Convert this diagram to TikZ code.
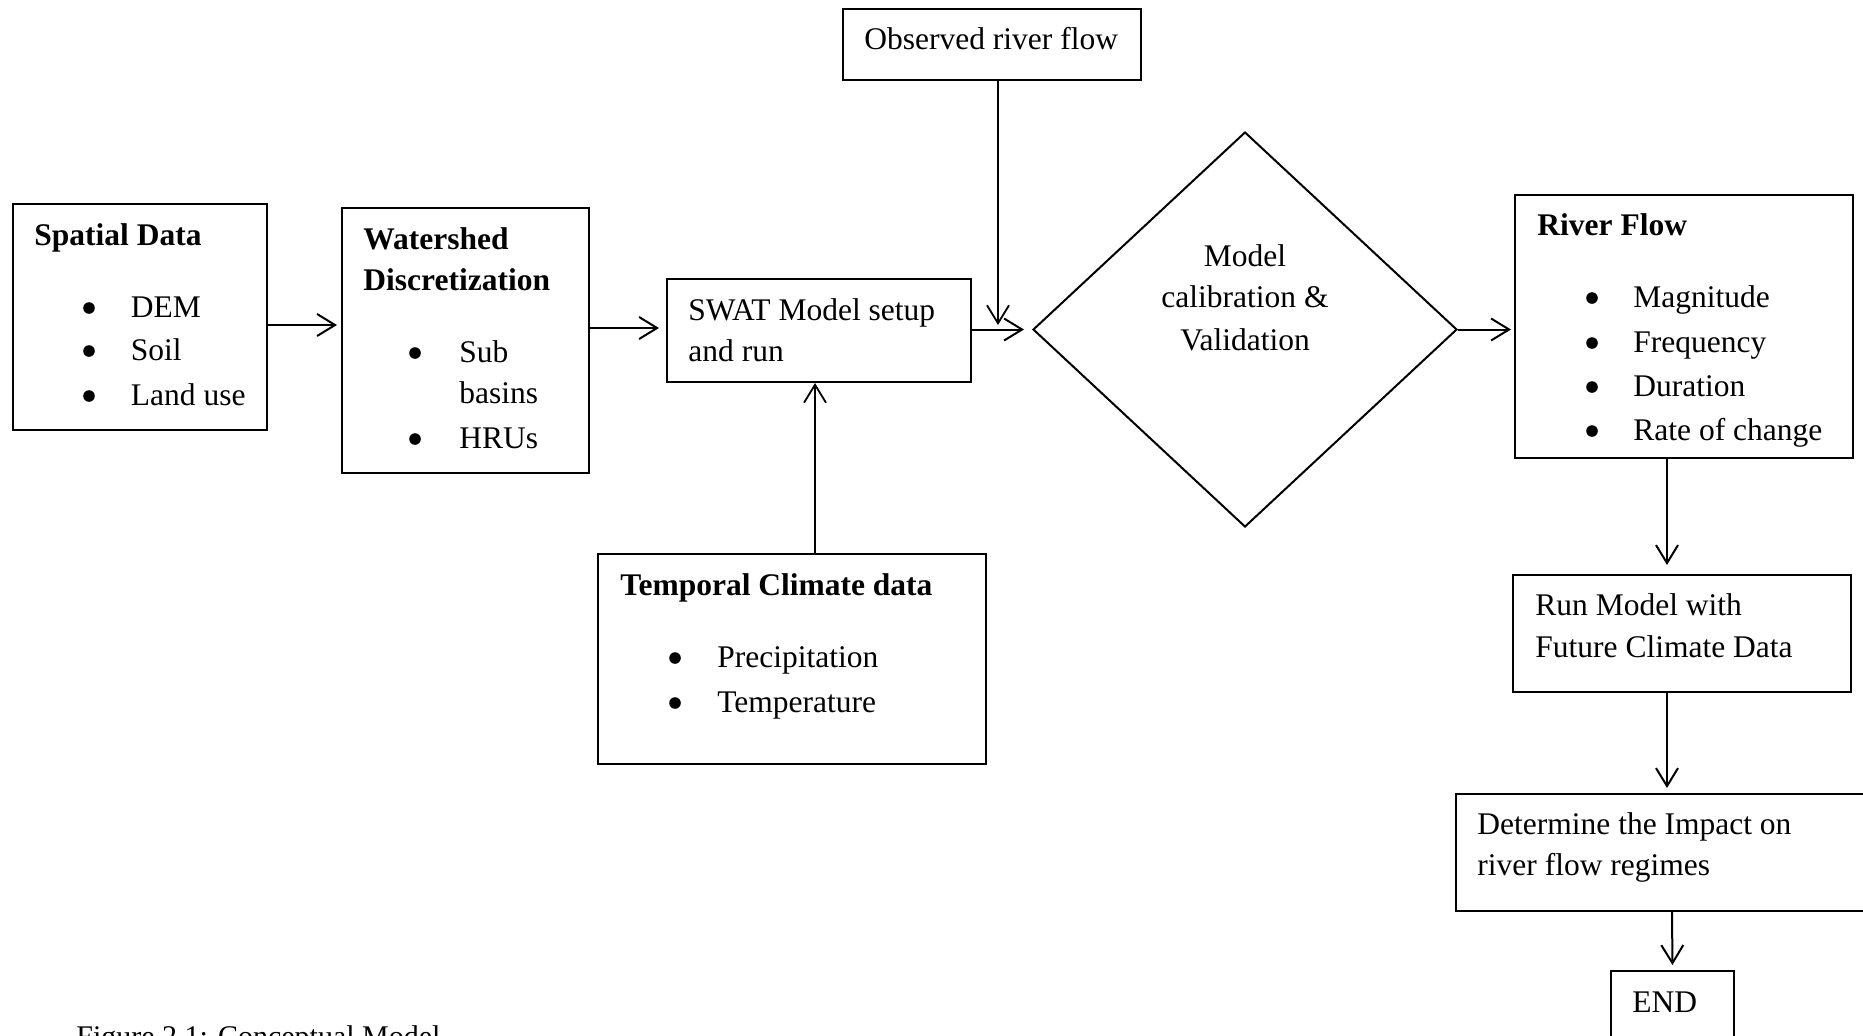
\documentclass[tikz,border=0pt]{standalone}
\usepackage{fontspec}
\setmainfont{Liberation Serif}
\usetikzlibrary{arrows.meta,shapes.geometric}
\tikzset{
  bx/.style={draw, line width=1pt, rectangle, inner sep=0pt},
  dia/.style={draw, line width=1pt, diamond, inner sep=0pt},
  tx/.style={anchor=base west, inner sep=0pt, font=\fontsize{15.75}{19}\selectfont},
  tb/.style={anchor=base west, inner sep=0pt, font=\fontsize{15.75}{19}\selectfont\bfseries},
  tc/.style={anchor=base, inner sep=0pt, font=\fontsize{15.75}{19}\selectfont},
  arr/.style={draw, line width=1pt, -{Straight Barb[length=9pt,width=11pt]}},
  dot/.style={fill=black},
}
\begin{document}
\begin{tikzpicture}[x=0.5pt,y=-0.5pt]
\useasboundingbox (0,0) rectangle (1863,1035);
\fill[white] (0,0) rectangle (1863,1035);

% boxes
\node[bx, minimum width=127pt, minimum height=113pt] (spatial) at (140,317) {};
\node[bx, minimum width=123.5pt, minimum height=132.5pt] (water) at (465.5,340.5) {};
\node[bx, minimum width=152pt, minimum height=51.5pt] (swat) at (819,330.5) {};
\node[bx, minimum width=149pt, minimum height=35.5pt] (obs) at (992,44.5) {};
\node[bx, minimum width=194pt, minimum height=105pt] (clim) at (792,659) {};
\node[dia, minimum width=212pt, minimum height=197.5pt] (calib) at (1245,329.5) {};
\node[bx, minimum width=169pt, minimum height=131.5pt] (river) at (1684,326.5) {};
\node[bx, minimum width=169pt, minimum height=58.5pt] (runm) at (1682,633.5) {};
\node[bx, minimum width=216pt, minimum height=58.5pt] (determ) at (1672,852.5) {};
\node[bx, minimum width=61.5pt, minimum height=44pt] (endb) at (1672.5,1015) {};

% texts: spatial
\node[tb] (tsp) at (34,245) {Spatial Data};
\node[tx] (tsp1) at (130.5,317) {DEM};
\node[tx] (tsp2) at (130.5,360) {Soil};
\node[tx] (tsp3) at (130.5,405) {Land use};
\foreach \y in {317,360,405} \fill[dot] (89,\y-9) circle[radius=2.9pt];
% watershed
\node[tb] (tw1) at (363,249) {Watershed};
\node[tb] (tw2) at (363,290) {Discretization};
\node[tx] (tw3) at (459,362) {Sub};
\node[tx] (tw4) at (459,403) {basins};
\node[tx] (tw5) at (459,448) {HRUs};
\foreach \y in {362,448} \fill[dot] (415,\y-9) circle[radius=2.9pt];
% swat
\node[tx] (ts1) at (688,320) {SWAT Model setup};
\node[tx] (ts2) at (688,361) {and run};
% observed
\node[tx] (to) at (864,49) {Observed river flow};
% diamond
\node[tc] (td1) at (1245,266) {Model};
\node[tc] (td2) at (1245,307) {calibration \&};
\node[tc] (td3) at (1245,350) {Validation};
% climate
\node[tb] (tc0) at (620,595) {Temporal Climate data};
\node[tx] (tc1) at (717,667) {Precipitation};
\node[tx] (tc2) at (717,712) {Temperature};
\foreach \y in {667,712} \fill[dot] (675,\y-9) circle[radius=2.9pt];
% river flow
\node[tb] (tr0) at (1537,235) {River Flow};
\node[tx] (tr1) at (1633,307) {Magnitude};
\node[tx] (tr2) at (1633,352) {Frequency};
\node[tx] (tr3) at (1633,396) {Duration};
\node[tx] (tr4) at (1633,440) {Rate of change};
\foreach \y in {307,352,396,440} \fill[dot] (1592,\y-9) circle[radius=2.9pt];
% run model
\node[tx] (tm1) at (1535,615) {Run Model with};
\node[tx] (tm2) at (1535,657) {Future Climate Data};
% determine
\node[tx] (tdt1) at (1477,834) {Determine the Impact on};
\node[tx] (tdt2) at (1477,875) {river flow regimes};
% end
\node[tx] (te) at (1632,1012) {END};
% caption
\node[tx, font=\fontsize{15}{18}\selectfont] (cap) at (76,1046) {Figure 2.1: Conceptual Model};

% connectors
\coordinate (join) at (998,325);
\draw[arr, shorten >=2pt] (spatial.east |- 0,325) -- (water.west |- 0,325);
\draw[arr, shorten >=3.5pt] (water.east |- 0,328) -- (swat.west |- 0,328);
\draw[arr, shorten >=4pt] (swat.east |- 0,329.5) -- (calib.west);
\draw[arr, line width=0.9pt] (obs.south -| join) -- (join);
\draw[arr, line width=0.9pt] ([xshift=-2pt]swat.south |- clim.north) -- ([xshift=-2pt]swat.south);
\draw[arr, shorten >=1.5pt] (calib.east) -- (river.west |- calib.east);
\draw[arr, shorten >=4.5pt] ([xshift=-8.5pt]river.south) -- ([xshift=-8.5pt]river.south |- runm.north);
\draw[arr, shorten >=2.5pt] ([xshift=-7.5pt]runm.south) -- ([xshift=-7.5pt]runm.south |- determ.north);
\draw[arr, shorten >=2.5pt] (determ.south) -- (endb.north);
\end{tikzpicture}
\end{document}
